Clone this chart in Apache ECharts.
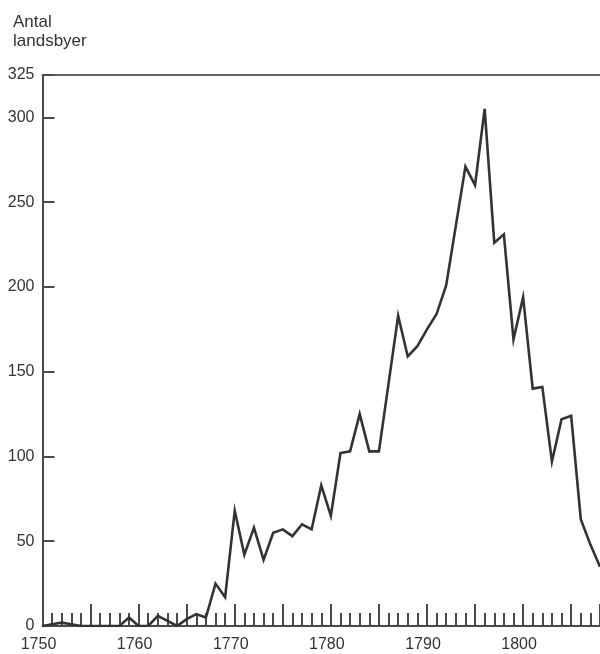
<!DOCTYPE html>
<html>
<head>
<meta charset="utf-8">
<script src="https://cdn.jsdelivr.net/npm/echarts@6/dist/echarts.min.js"></script>
<style>html,body{margin:0;padding:0;background:#fff;}#c{width:600px;height:654px;}</style>
</head>
<body>
<div id="c"></div>
<script>
const years = [1750,1751,1752,1753,1754,1755,1756,1757,1758,1759,
  1760,1761,1762,1763,1764,1765,1766,1767,1768,1769,
  1770,1771,1772,1773,1774,1775,1776,1777,1778,1779,
  1780,1781,1782,1783,1784,1785,1786,1787,1788,1789,
  1790,1791,1792,1793,1794,1795,1796,1797,1798,1799,
  1800,1801,1802,1803,1804,1805,1806,1807,1808];
const villages = [0,1,2,1,0,0,0,0,0,5,
  0,0,6,3,0,4,7,5,25,17,
  68,42,58,39,55,57,53,60,57,83,
  65,102,103,125,103,103,143,183,159,165,
  175,184,201,236,271,260,305,226,231,169,
  194,140,141,97,122,124,63,48,35];
const yTickLabels = ['0','50','100','150','200','250','300','325'];
const xTickLabels = ['1750','1760','1770','1780','1790','1800'];
const yTitle = 'Antal\nlandsbyer';

const chart = echarts.init(document.getElementById('c'), null, {renderer:'canvas'});
const axisCol = '#4a4a4a';
const txtCol = '#333';
const font = 'Liberation Sans, Arial, sans-serif';
chart.setOption({
  animation: false,
  backgroundColor: '#fff',
  title: {
    text: yTitle, left: 8, top: 8,
    textStyle: {fontFamily: font, fontSize: 17, fontWeight: 'normal', color: txtCol, lineHeight: 19}
  },
  grid: {left: 42.5, right: 0, top: 75, bottom: 28},
  xAxis: [{
    type: 'value', min: 1750, max: 1808, interval: 5,
    axisLine: {show: true, lineStyle: {color: axisCol, width: 2}},
    axisTick: {show: true, inside: true, length: 22, lineStyle: {color: axisCol, width: 2}},
    minorTick: {show: true, splitNumber: 5, length: 13, lineStyle: {color: axisCol, width: 2}},
    splitLine: {show: false},
    axisLabel: {
      margin: 11, fontSize: 16, color: txtCol, fontFamily: font,
      padding: [0, 8, 0, 0],
      showMaxLabel: false,
      formatter: v => { const s = String(Math.round(v)); return xTickLabels.includes(s) ? s : ''; }
    }
  }, {
    type: 'value', position: 'top', min: 1750, max: 1808,
    axisLine: {show: true, lineStyle: {color: '#666', width: 2}},
    axisTick: {show: false}, axisLabel: {show: false}, splitLine: {show: false}
  }],
  yAxis: {
    type: 'value', min: 0, max: 325, interval: 50,
    axisLine: {show: true, lineStyle: {color: axisCol, width: 2}},
    axisTick: {show: true, inside: true, length: 12, lineStyle: {color: axisCol, width: 2}},
    splitLine: {show: false},
    axisLabel: {
      margin: 8, fontSize: 16, color: txtCol, fontFamily: font,
      showMaxLabel: true,
      formatter: v => { const s = String(Math.round(v)); return yTickLabels.includes(s) ? s : ''; }
    }
  },
  series: [{
    type: 'line',
    xAxisIndex: 0,
    data: years.map((y, i) => [y, villages[i]]),
    showSymbol: false,
    clip: true,
    lineStyle: {color: '#333', width: 2.6, join: 'miter'}
  }]
});
</script>
</body>
</html>
